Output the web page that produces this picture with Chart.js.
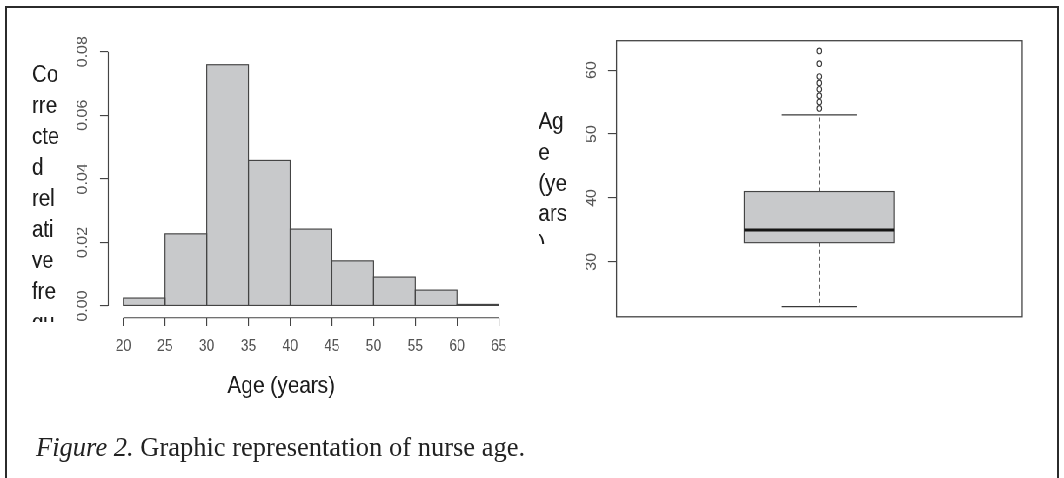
<!DOCTYPE html>
<html>
<head>
<meta charset="utf-8">
<title>Figure 2. Graphic representation of nurse age</title>
<script src="https://cdn.jsdelivr.net/npm/chart.js@4.4.1/dist/chart.umd.min.js"></script>
<style>
  html, body { margin: 0; padding: 0; background: #fff; }
  body { width: 1064px; height: 478px; position: relative; overflow: hidden; }
  #frame { position: absolute; left: 5px; top: 6px; width: 1050px; height: 490px;
           border: 2px solid #2b2b2b; border-bottom: none; }
  /* the source figure is squeezed horizontally, so the charts are drawn wider and squeezed */
  #squeeze { position: absolute; left: 0; top: 0; width: 1223px; height: 478px;
             transform: scaleX(0.87); transform-origin: 0 0; }
  #histBox { position: absolute; left: 0; top: 0; width: 609px; height: 420px; }
  #boxBox { position: absolute; left: 609px; top: 0; width: 614px; height: 340px; }
  #caption { position: absolute; left: 36px; top: 434px; font: 26.5px/26px 'Liberation Serif', 'Times New Roman', serif;
             color: #222; white-space: nowrap; }
</style>
</head>
<body>
<div id="frame"></div>
<div id="squeeze">
  <div id="histBox"><canvas id="hist"></canvas></div>
  <div id="boxBox"><canvas id="box"></canvas></div>
</div>
<div id="caption"><i>Figure 2.</i> Graphic representation of nurse age.</div>
<script>
// histogram of age (density)
var binEdges = [20, 25, 30, 35, 40, 45, 50, 55, 60, 65];
var density = [0.0025, 0.0227, 0.0759, 0.0458, 0.0242, 0.0142, 0.0091, 0.0050, 0.0005];
var histXTicks = [20, 25, 30, 35, 40, 45, 50, 55, 60, 65];
var histYTicks = [0, 0.02, 0.04, 0.06, 0.08];
var histYLabels = ['0.00', '0.02', '0.04', '0.06', '0.08'];
var histXTitle = 'Age (years)';
// y title, wrapped and cut off like in the source figure
var histYTitle = ['Co', 'rre', 'cte', 'd', 'rel', 'ati', 've', 'fre', 'qu'];

// boxplot of age
var boxStats = [23, 33, 35, 41, 53]; // lower whisker, Q1, median, Q3, upper whisker
var outliers = [54, 55, 56, 57, 58, 59, 61, 63];
var boxYTicks = [30, 40, 50, 60];
var boxYLabels = ['30', '40', '50', '60'];
var boxYTitle = ['Ag', 'e', '(ye', 'ars', ')'];

var SX = 0.87;
function ux(v) { return v / SX; }   // screen x -> canvas x
var BOX_LEFT = 609;

var FAMILY = "'Liberation Sans', Arial, sans-serif";
var FILL = '#c8c9cb';
var EDGE = '#444444';
var INK = '#1c1c1c';
var TICK_INK = '#555555';

Chart.defaults.font.family = FAMILY;
Chart.defaults.animation = false;
Chart.defaults.events = [];
Chart.defaults.plugins.legend.display = false;
Chart.defaults.plugins.tooltip.enabled = false;

function rotatedLabels(ctx, labels, values, scale, cx) {
  ctx.save();
  ctx.font = '16px ' + FAMILY;
  ctx.fillStyle = TICK_INK;
  ctx.textAlign = 'center';
  ctx.textBaseline = 'middle';
  for (var i = 0; i < values.length; i++) {
    ctx.save();
    ctx.translate(cx, scale.getPixelForValue(values[i]));
    ctx.rotate(-Math.PI / 2);
    ctx.fillText(labels[i], 0, 0);
    ctx.restore();
  }
  ctx.restore();
}

function wrappedTitle(ctx, lines, x, firstBase, step, clipRight, clipBottom) {
  ctx.save();
  ctx.beginPath();
  ctx.rect(0, 0, clipRight, clipBottom);
  ctx.clip();
  ctx.font = '23.5px ' + FAMILY;
  ctx.fillStyle = INK;
  ctx.textAlign = 'left';
  ctx.textBaseline = 'alphabetic';
  for (var i = 0; i < lines.length; i++) {
    ctx.fillText(lines[i], x, firstBase + i * step);
  }
  ctx.restore();
}

// R style axes: lines only from first to last tick, rotated y labels, titles
var histDecor = {
  id: 'histDecor',
  afterDatasetsDraw: function(chart) {
    // outline each bar with a centred line, like R's rect()
    var ctx = chart.ctx;
    ctx.save();
    ctx.strokeStyle = EDGE;
    ctx.lineWidth = 1.15;
    chart.getDatasetMeta(0).data.forEach(function(bar) {
      var p = bar.getProps(['x', 'y', 'base', 'width'], true);
      ctx.strokeRect(p.x - p.width / 2, p.y, p.width, p.base - p.y);
    });
    ctx.restore();
  },
  afterDraw: function(chart) {
    var ctx = chart.ctx, x = chart.scales.x, y = chart.scales.y, a = chart.chartArea;
    ctx.save();
    ctx.strokeStyle = EDGE;
    ctx.lineWidth = 1.15;
    ctx.beginPath();
    ctx.moveTo(x.getPixelForValue(histXTicks[0]), a.bottom);
    ctx.lineTo(x.getPixelForValue(histXTicks[histXTicks.length - 1]), a.bottom);
    ctx.moveTo(a.left, y.getPixelForValue(histYTicks[0]));
    ctx.lineTo(a.left, y.getPixelForValue(histYTicks[histYTicks.length - 1]));
    ctx.stroke();
    rotatedLabels(ctx, histYLabels, histYTicks, y, ux(83.3));
    wrappedTitle(ctx, histYTitle, ux(32), 81.7, 31, ux(100), 322);
    ctx.font = '24px ' + FAMILY;
    ctx.fillStyle = INK;
    ctx.textAlign = 'center';
    ctx.textBaseline = 'alphabetic';
    ctx.fillText(histXTitle, ux(281.3), 393.3);
    ctx.restore();
  }
};

var boxDecor = {
  id: 'boxDecor',
  beforeDatasetsDraw: function(chart) {
    var ctx = chart.ctx, x = chart.scales.x, y = chart.scales.y, a = chart.chartArea;
    var lo = y.getPixelForValue(boxStats[0]);
    var q1 = y.getPixelForValue(boxStats[1]);
    var med = y.getPixelForValue(boxStats[2]);
    var q3 = y.getPixelForValue(boxStats[3]);
    var hi = y.getPixelForValue(boxStats[4]);
    var cx = x.getPixelForValue(1);
    var bl = x.getPixelForValue(0.8), br = x.getPixelForValue(1.2);
    var cl = x.getPixelForValue(0.9), cr = x.getPixelForValue(1.1);
    ctx.save();
    // whiskers
    ctx.strokeStyle = '#3a3a3a';
    ctx.lineWidth = 1.15;
    ctx.setLineDash([4, 3]);
    ctx.beginPath();
    ctx.moveTo(cx, q3); ctx.lineTo(cx, hi);
    ctx.moveTo(cx, q1); ctx.lineTo(cx, lo);
    ctx.stroke();
    ctx.setLineDash([]);
    ctx.beginPath();
    ctx.moveTo(cl, hi); ctx.lineTo(cr, hi);
    ctx.moveTo(cl, lo); ctx.lineTo(cr, lo);
    ctx.stroke();
    // box
    ctx.fillStyle = FILL;
    ctx.fillRect(bl, q3, br - bl, q1 - q3);
    ctx.strokeStyle = EDGE;
    ctx.strokeRect(bl, q3, br - bl, q1 - q3);
    // median
    ctx.lineWidth = 3;
    ctx.strokeStyle = '#151515';
    ctx.beginPath();
    ctx.moveTo(bl, med); ctx.lineTo(br, med);
    ctx.stroke();
    // frame
    ctx.lineWidth = 1.3;
    ctx.strokeStyle = EDGE;
    ctx.strokeRect(a.left, a.top, a.right - a.left, a.bottom - a.top);
    rotatedLabels(ctx, boxYLabels, boxYTicks, y, ux(591.7) - BOX_LEFT);
    wrappedTitle(ctx, boxYTitle, ux(538.5) - BOX_LEFT, 129.3, 30.7, ux(570) - BOX_LEFT, 244);
    ctx.restore();
  }
};

var histW = 609, histH = 420;
new Chart(document.getElementById('hist'), {
  type: 'bar',
  data: {
    datasets: [{
      data: density.map(function(d, i) { return { x: (binEdges[i] + binEdges[i + 1]) / 2, y: d }; }),
      backgroundColor: FILL,
      borderWidth: 0,
      inflateAmount: 0,
      barPercentage: 1,
      categoryPercentage: 1
    }]
  },
  options: {
    responsive: true,
    maintainAspectRatio: false,
    layout: { padding: { left: 0, top: 51.7, right: histW - ux(513.7), bottom: 0 } },
    scales: {
      x: {
        type: 'linear',
        min: 18.2,
        max: 66.8,
        offset: false,
        afterBuildTicks: function(s) { s.ticks = histXTicks.map(function(v) { return { value: v }; }); },
        afterFit: function(s) { s.height = histH - 317.7; },
        border: { display: false },
        grid: { display: true, offset: false, drawOnChartArea: false, drawTicks: true, tickLength: 8.3, color: EDGE, lineWidth: 1.15 },
        ticks: { autoSkip: false, maxRotation: 0, padding: 10.5, color: TICK_INK, font: { size: 16 } }
      },
      y: {
        min: -0.00368,
        max: 0.08,
        afterBuildTicks: function(s) { s.ticks = histYTicks.map(function(v) { return { value: v }; }); },
        afterFit: function(s) { s.width = ux(108.3); },
        border: { display: false },
        grid: { display: true, drawOnChartArea: false, drawTicks: true, tickLength: ux(8.3), color: EDGE, lineWidth: 1.15 },
        ticks: { display: false }
      }
    }
  },
  plugins: [histDecor]
});

var boxW = 614, boxH = 340;
new Chart(document.getElementById('box'), {
  type: 'scatter',
  data: {
    datasets: [{
      data: outliers.map(function(v) { return { x: 1, y: v }; }),
      pointStyle: 'circle',
      pointRadius: 2.8,
      borderWidth: 1.1,
      borderColor: '#3c3c3c',
      backgroundColor: 'rgba(0,0,0,0)'
    }]
  },
  options: {
    responsive: true,
    maintainAspectRatio: false,
    layout: { padding: { left: 0, top: 40.7, right: boxW - (ux(1022.2) - BOX_LEFT), bottom: boxH - 316.8 } },
    scales: {
      x: { type: 'linear', min: 0.46, max: 1.54, display: false },
      y: {
        min: 21.4,
        max: 64.6,
        afterBuildTicks: function(s) { s.ticks = boxYTicks.map(function(v) { return { value: v }; }); },
        afterFit: function(s) { s.width = ux(616.5) - BOX_LEFT; },
        border: { display: false },
        grid: { display: true, drawOnChartArea: false, drawTicks: true, tickLength: ux(8.5), color: EDGE, lineWidth: 1.15 },
        ticks: { display: false }
      }
    }
  },
  plugins: [boxDecor]
});
</script>
</body>
</html>
